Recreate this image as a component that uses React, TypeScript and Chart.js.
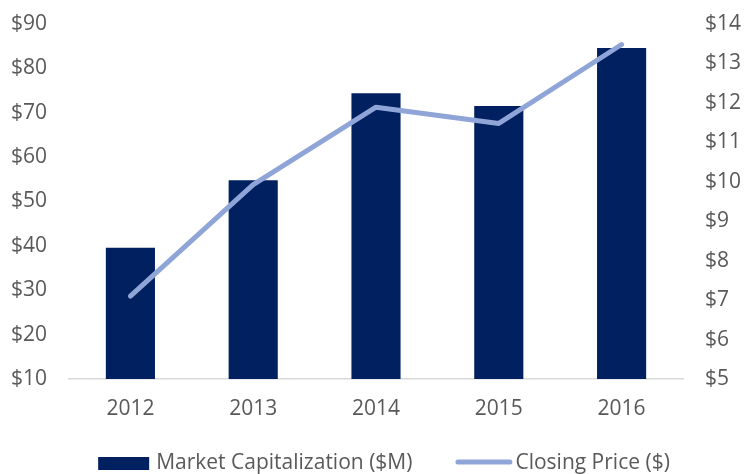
import React, { useEffect, useRef } from 'react';
import { Chart, registerables } from 'chart.js';

Chart.register(...registerables);

const categories = ['2012', '2013', '2014', '2015', '2016'];
const marketCap = [39.6, 54.8, 74.4, 71.5, 84.6];
const closingPrice = [7.1, 9.93, 11.89, 11.48, 13.48];
const leftRange = { min: 10, max: 90, step: 10 };
const rightRange = { min: 5, max: 14, step: 1 };

const FONT = '"Open Sans", Lato, sans-serif';
const FONT_SIZE = 21;
const TEXT_COLOR = '#595959';
const BAR_COLOR = '#002060';
const LINE_COLOR = '#8FA5D8';

const bottomLegend = {
  id: 'bottomLegend',
  afterDraw(chart: any) {
    const ctx = chart.ctx as CanvasRenderingContext2D;
    ctx.save();
    ctx.font = `${FONT_SIZE}px ${FONT}`;
    ctx.textBaseline = 'middle';
    const items = chart.data.datasets.map((ds: any) => {
      const isLine = ds.type === 'line';
      return {
        label: ds.label as string,
        isLine,
        color: isLine ? ds.borderColor : ds.backgroundColor,
        sw: isLine ? 57 : 51,
        gap: isLine ? 3 : 7,
      };
    });
    const itemGap = 43;
    const widths = items.map((it: any) => it.sw + it.gap + ctx.measureText(it.label).width);
    const total = widths.reduce((a: number, b: number) => a + b, 0) + itemGap * (items.length - 1);
    let x = chart.width / 2 + 12 - total / 2;
    const y = 463;
    items.forEach((it: any, i: number) => {
      if (it.isLine) {
        ctx.strokeStyle = it.color;
        ctx.lineWidth = 5;
        ctx.lineCap = 'round';
        ctx.beginPath();
        ctx.moveTo(x + 2.5, y - 1);
        ctx.lineTo(x + it.sw - 2.5, y - 1);
        ctx.stroke();
      } else {
        ctx.fillStyle = it.color;
        ctx.fillRect(x, y - 6, it.sw, 13);
      }
      ctx.fillStyle = TEXT_COLOR;
      ctx.fillText(it.label, x + it.sw + it.gap, y);
      x += widths[i] + itemGap;
    });
    ctx.restore();
  },
};

function noVerticalPadding(scale: any, width: number) {
  scale.width = width;
  scale.paddingTop = 0;
  scale.paddingBottom = 0;
}

export default function App() {
  const ref = useRef<HTMLCanvasElement | null>(null);

  useEffect(() => {
    document.body.style.margin = '0';
    if (!ref.current) return;
    const chart = new Chart(ref.current, {
      type: 'bar',
      data: {
        labels: categories,
        datasets: [
          {
            type: 'bar',
            label: 'Market Capitalization ($M)',
            data: marketCap,
            yAxisID: 'y',
            backgroundColor: BAR_COLOR,
            borderWidth: 0,
            barPercentage: 0.4,
            categoryPercentage: 1,
            order: 1,
          } as any,
          {
            type: 'line',
            label: 'Closing Price ($)',
            data: closingPrice,
            yAxisID: 'y1',
            borderColor: LINE_COLOR,
            backgroundColor: LINE_COLOR,
            borderWidth: 5,
            borderCapStyle: 'round',
            borderJoinStyle: 'round',
            pointRadius: 0,
            tension: 0,
            order: 0,
          } as any,
        ],
      },
      options: {
        responsive: false,
        animation: false,
        layout: { padding: { top: 24, left: 0, right: 0, bottom: 50 } },
        plugins: {
          legend: { display: false },
          tooltip: { enabled: false },
        },
        scales: {
          x: {
            grid: { display: false, drawTicks: false },
            border: { display: true, color: '#D9D9D9', width: 1.5 },
            ticks: {
              color: TEXT_COLOR,
              font: { family: FONT, size: FONT_SIZE },
              padding: 17,
              maxRotation: 0,
            },
            afterFit(scale: any) {
              scale.height = 45;
            },
          },
          y: {
            position: 'left',
            min: leftRange.min,
            max: leftRange.max,
            grid: { display: false, drawTicks: false },
            border: { display: false },
            ticks: {
              stepSize: leftRange.step,
              color: TEXT_COLOR,
              font: { family: FONT, size: FONT_SIZE },
              padding: 22,
              callback: (v: any) => '$' + v,
            },
            afterFit(scale: any) {
              noVerticalPadding(scale, 69);
            },
          },
          y1: {
            position: 'right',
            min: rightRange.min,
            max: rightRange.max,
            grid: { display: false, drawTicks: false },
            border: { display: false },
            ticks: {
              stepSize: rightRange.step,
              color: TEXT_COLOR,
              font: { family: FONT, size: FONT_SIZE },
              padding: 22,
              callback: (v: any) => '$' + v,
            },
            afterFit(scale: any) {
              noVerticalPadding(scale, 61);
            },
          },
        },
      },
      plugins: [bottomLegend],
    });
    return () => chart.destroy();
  }, []);

  return (
    <div style={{ width: 744, height: 474 }}>
      <canvas ref={ref} width={744} height={474} />
    </div>
  );
}
